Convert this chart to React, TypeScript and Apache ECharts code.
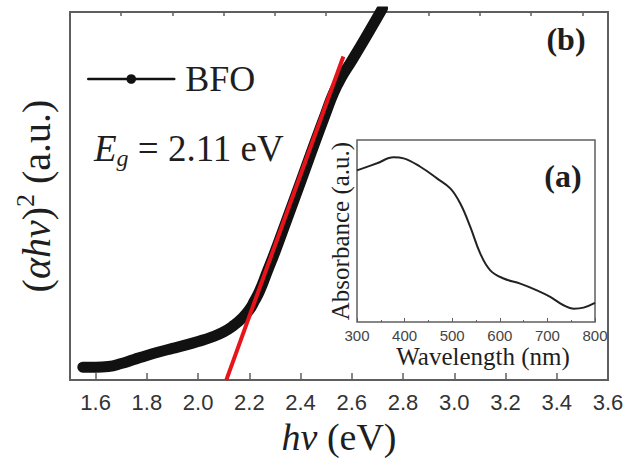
import React, { useEffect, useRef } from "react";
import * as echarts from "echarts";

// Main panel (b): (alpha h nu)^2 vs photon energy
const bfoEnergy = [1.55, 1.60, 1.65, 1.70, 1.75, 1.80, 1.85, 1.90, 1.95, 2.00, 2.05, 2.10, 2.14, 2.17, 2.20, 2.22, 2.24, 2.27, 2.30, 2.35, 2.40, 2.45, 2.50, 2.53, 2.56, 2.60, 2.65, 2.72];
const bfoValue = [3.5, 3.5, 3.7, 4.5, 5.6, 6.7, 7.7, 8.6, 9.5, 10.5, 11.6, 13.1, 14.9, 16.7, 19.1, 21.5, 24.2, 29.5, 34.8, 44.3, 53.8, 63.4, 72.8, 78.2, 82.3, 86.8, 92.6, 101.0];

// Linear fit (Tauc extrapolation)
const fitEnergy = [2.11, 2.567];
const fitValue = [0, 87.9];

// Inset (a): absorbance vs wavelength
const wavelength = [300, 342, 377, 398, 433, 468, 496, 517, 538, 559, 580, 608, 643, 678, 706, 734, 755, 776, 800];
const absorbance = [83.3, 87.2, 90.5, 89.9, 85.3, 78.9, 73.4, 65.1, 52.3, 37.6, 28.4, 23.9, 21.1, 17.4, 13.8, 9.2, 7.3, 7.9, 10.5];

// Tick labels
const xMajorTicks = [1.6, 1.8, 2.0, 2.2, 2.4, 2.6, 2.8, 3.0, 3.2, 3.4, 3.6];
const xMinorTicks = [1.7, 1.9, 2.1, 2.3, 2.5, 2.7, 2.9, 3.1, 3.3, 3.5];

const SERIF = '"Liberation Serif","Times New Roman",serif';
const SANS = '"Liberation Sans",Arial,sans-serif';
const TXT = "#1e1e1e";
const FRAME = "#5f5f5f";

export default function App() {
  const ref = useRef<HTMLDivElement>(null);
  useEffect(() => {
    if (!ref.current) return;
    const chart = echarts.init(ref.current, undefined, { renderer: "svg" });
    const option: any = {
      animation: false,
      backgroundColor: "#ffffff",
      grid: [
        { left: 70, top: 12, width: 538, height: 373, show: true, borderColor: FRAME, borderWidth: 2, backgroundColor: "transparent" },
        { left: 357, top: 140, width: 238, height: 182, show: true, borderColor: FRAME, borderWidth: 1.5, backgroundColor: "transparent" },
      ],
      legend: {
        data: ["BFO"],
        left: 82,
        top: 56,
        itemWidth: 86,
        itemHeight: 12,
        lineStyle: { width: 2.5, color: "#111" },
        itemStyle: { color: "#111" },
        textStyle: { fontFamily: SERIF, fontSize: 36, color: TXT, padding: [0, 0, 0, 6] },
      },
      xAxis: [
        {
          gridIndex: 0,
          type: "value",
          min: 1.5,
          max: 3.6,
          axisLine: { show: false },
          axisTick: { show: true, inside: true, length: 7, customValues: xMajorTicks, lineStyle: { color: FRAME, width: 1.5 } },
          axisLabel: { customValues: xMajorTicks, formatter: (v: number) => v.toFixed(1), fontFamily: SANS, fontSize: 22, color: "#333", margin: 11 },
          splitLine: { show: false },
          name: "{i|hν}{p| (eV)}",
          nameLocation: "middle",
          nameGap: 37,
          nameTextStyle: {
            color: TXT,
            rich: {
              i: { fontFamily: SERIF, fontSize: 38, fontStyle: "italic", color: TXT },
              p: { fontFamily: SERIF, fontSize: 38, color: TXT },
            },
          },
        },
        {
          gridIndex: 0,
          type: "value",
          min: 1.5,
          max: 3.6,
          axisLine: { show: false },
          axisTick: { show: true, inside: true, length: 4, customValues: xMinorTicks, lineStyle: { color: FRAME, width: 1.5 } },
          axisLabel: { show: false },
          splitLine: { show: false },
        },
        {
          gridIndex: 1,
          type: "value",
          min: 300,
          max: 800,
          interval: 100,
          axisLine: { show: false },
          axisTick: { show: true, inside: true, length: 4, lineStyle: { color: FRAME, width: 1 } },
          minorTick: { show: true, splitNumber: 2, length: 2, lineStyle: { color: FRAME, width: 1 } },
          axisLabel: { fontFamily: SANS, fontSize: 15, color: "#444", margin: 6 },
          splitLine: { show: false },
          name: "Wavelength (nm)",
          nameLocation: "middle",
          nameGap: 22,
          nameTextStyle: { fontFamily: SERIF, fontSize: 25, color: TXT, padding: [0, 0, 0, 14] },
        },
      ],
      yAxis: [
        {
          gridIndex: 0,
          type: "value",
          min: 0,
          max: 100,
          axisLine: { show: false },
          axisTick: { show: false },
          axisLabel: { show: false },
          splitLine: { show: false },
          name: "{p|(}{i|αhν}{p|)}{s|2}{p| (a.u.)}",
          nameLocation: "middle",
          nameGap: 10,
          nameTextStyle: {
            color: TXT,
            rich: {
              p: { fontFamily: SERIF, fontSize: 40, color: TXT },
              i: { fontFamily: SERIF, fontSize: 40, fontStyle: "italic", color: TXT },
              s: { fontFamily: SERIF, fontSize: 26, color: TXT, padding: [0, 0, 22, 0] },
            },
          },
        },
        {
          gridIndex: 1,
          type: "value",
          min: 0,
          max: 100,
          axisLine: { show: false },
          axisTick: { show: false },
          axisLabel: { show: false },
          splitLine: { show: false },
          name: "Absorbance (a.u.)",
          nameLocation: "middle",
          nameGap: 4,
          nameTextStyle: { fontFamily: SERIF, fontSize: 25, color: TXT },
        },
      ],
      series: [
        {
          name: "BFO",
          type: "line",
          xAxisIndex: 0,
          yAxisIndex: 0,
          data: bfoEnergy.map((x, i) => [x, bfoValue[i]]),
          symbol: "circle",
          showSymbol: false,
          smooth: 0.5,
          clip: true,
          lineStyle: { color: "#111", width: 11, cap: "round", join: "round" },
          itemStyle: { color: "#111" },
          z: 2,
        },
        {
          name: "fit",
          type: "line",
          xAxisIndex: 0,
          yAxisIndex: 0,
          data: fitEnergy.map((x, i) => [x, fitValue[i]]),
          symbol: "none",
          lineStyle: { color: "#e8141c", width: 4 },
          z: 3,
        },
        {
          name: "Absorbance",
          type: "line",
          xAxisIndex: 2,
          yAxisIndex: 1,
          data: wavelength.map((x, i) => [x, absorbance[i]]),
          symbol: "none",
          smooth: 0.4,
          lineStyle: { color: "#222", width: 2 },
          z: 2,
        },
      ],
      graphic: [
        {
          type: "text",
          x: 566,
          y: 39,
          style: { text: "(b)", fontFamily: SERIF, fontSize: 32, fontWeight: "bold", fill: TXT, align: "center", verticalAlign: "middle" },
        },
        {
          type: "text",
          x: 563,
          y: 176,
          style: { text: "(a)", fontFamily: SERIF, fontSize: 32, fontWeight: "bold", fill: TXT, align: "center", verticalAlign: "middle" },
        },
        {
          type: "text",
          x: 94,
          y: 148,
          style: {
            text: "{e|E}{g|g}{n| = 2.11 eV}",
            align: "left",
            verticalAlign: "middle",
            rich: {
              e: { fontFamily: SERIF, fontSize: 37, fontStyle: "italic", fill: TXT, color: TXT },
              g: { fontFamily: SERIF, fontSize: 24, fontStyle: "italic", fill: TXT, color: TXT, padding: [20, 0, 0, 0] },
              n: { fontFamily: SERIF, fontSize: 37, fill: TXT, color: TXT },
            },
          },
        },
      ],
    };
    chart.setOption(option);
    return () => chart.dispose();
  }, []);
  return <div ref={ref} style={{ position: "fixed", left: 0, top: 0, width: 627, height: 461 }} />;
}
